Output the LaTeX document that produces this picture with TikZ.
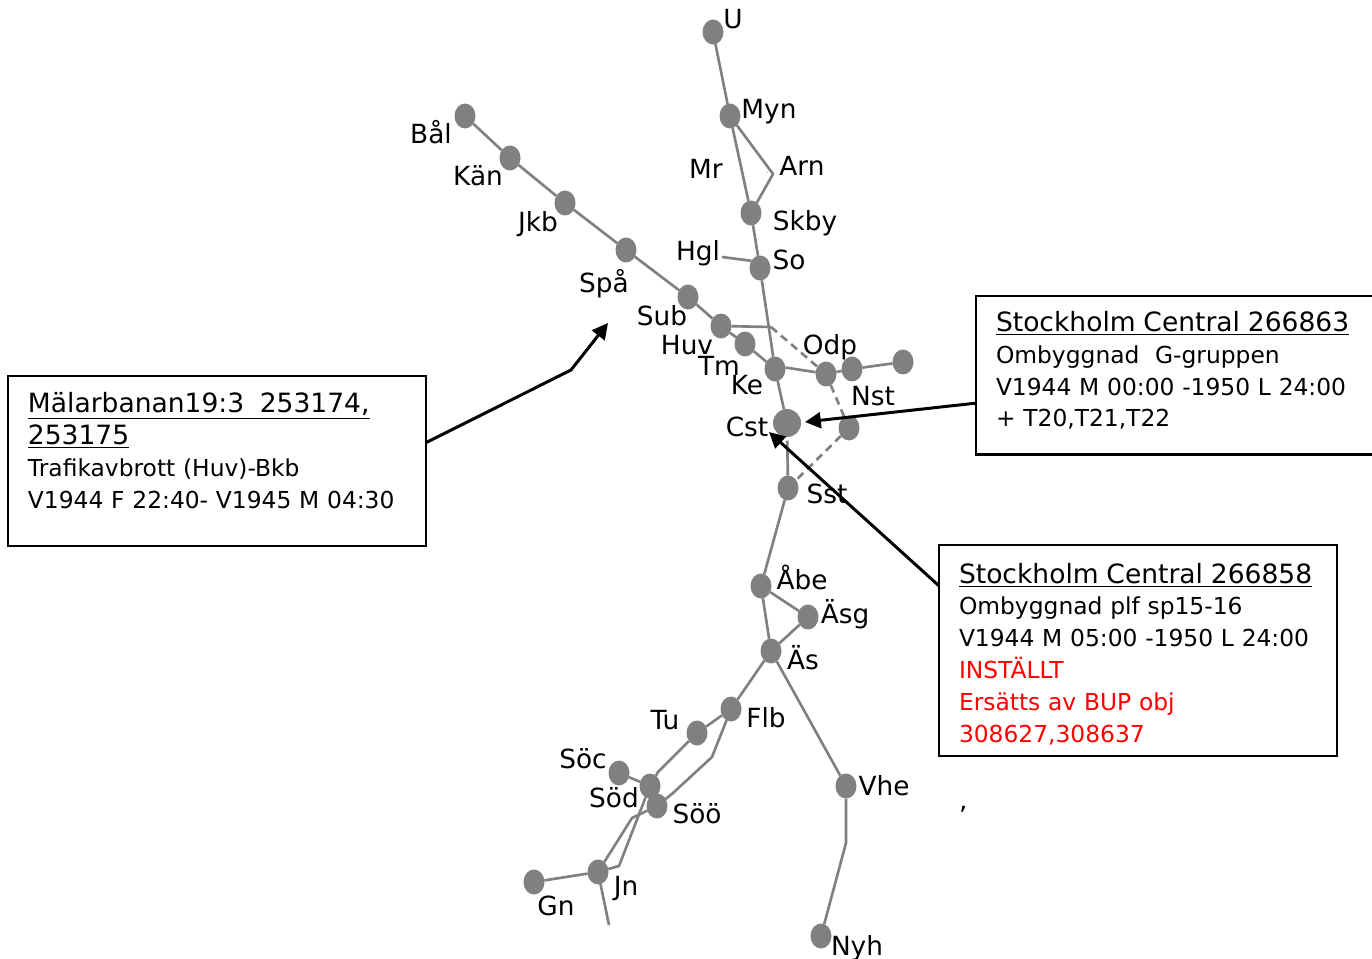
\documentclass[tikz,border=0pt]{standalone}
\usepackage{fontspec}
\setmainfont{DejaVu Sans}
\usetikzlibrary{shapes.geometric,arrows.meta}
\definecolor{stationgray}{RGB}{128,128,128}
\newcommand{\boxtitle}[1]{{\fontsize{15.1}{18.15}\selectfont\underline{#1}}}
\tikzset{
    station/.style={ellipse, fill=stationgray, inner sep=0pt, outer sep=0pt, minimum width=0.42cm, minimum height=0.5cm},
    bigstation/.style={circle, fill=stationgray, inner sep=0pt, outer sep=0pt, minimum size=0.56cm},
    label/.style={inner sep=0pt, font=\fontsize{15}{18}\selectfont, anchor=center},
    track/.style={draw=stationgray, line width=1.5pt},
    closed/.style={track, dash pattern=on 4.5pt off 3pt},
    infobox/.style={draw=black, line width=1.6pt, anchor=north west, align=left, inner ysep=0pt, inner xsep=0.4cm,
        outer sep=0pt, font=\fontsize{13.3}{18.15}\selectfont},
    callout/.style={draw=black, line width=1.7pt, -{Triangle[length=9pt,width=9pt]}}
}
\begin{document}
\begin{tikzpicture}[x=0.02cm,y=-0.02cm]
    \useasboundingbox (0,0) rectangle (1372,959);

    % Stationer, norra grenen
    \node[station] (U) at (713,32) {};
    \node[station] (Myn) at (730,116) {};
    \node[station] (Skby) at (751,213) {};
    \node[station] (So) at (760,268) {};
    \coordinate (Arn) at (773,174);
    \coordinate (Hgl) at (722,257);

    % Stationer, västra grenen
    \node[station] (Bal) at (465,116) {};
    \node[station] (Kan) at (510,158) {};
    \node[station] (Jkb) at (565,203) {};
    \node[station] (Spa) at (626,250) {};
    \node[station] (Sub) at (688,297) {};
    \node[station] (Huv) at (721,326) {};
    \node[station] (Tm) at (745,344) {};
    \node[station] (Ke) at (775,369) {};

    % Stationer runt Cst
    \node[station] (Odp) at (826,374) {};
    \node[station] (Nst) at (852,369) {};
    \node[station] (Ost) at (903,362) {};
    \node[bigstation] (Cst) at (787,423) {};
    \node[station] (Ost2) at (849,428) {};
    \node[station] (Sst) at (788,488) {};
    \coordinate (Huvend) at (771,327);

    % Stationer, södra grenen
    \node[station] (Abe) at (761,586) {};
    \node[station] (Asg) at (808,617) {};
    \node[station] (As) at (771,651) {};
    \node[station] (Flb) at (731,709) {};
    \node[station] (Tu) at (697,733) {};
    \node[station] (Soc) at (619,773) {};
    \node[station] (Sod) at (650,786) {};
    \node[station] (Soo) at (657,806) {};
    \node[station] (Vhe) at (846,786) {};
    \node[station] (Nyh) at (821,936) {};
    \node[station] (Jn) at (598,872) {};
    \node[station] (Gn) at (534,882) {};
    \coordinate (Jnend) at (609,925);

    % Spår
    \draw[track] (U) -- (Myn) -- (Skby) -- (So) -- (Ke) -- (Cst);
    \draw[track] (Myn) -- (Arn) -- (Skby);
    \fill[stationgray] (767,172) circle (0.7);
    \draw[track] (Hgl) -- (So.140);
    \draw[track] (Bal) -- (Kan) -- (Jkb) -- (Spa) -- (Sub) -- (Huv) -- (Tm) -- (Ke);
    \draw[track] (Huv) -- (Huvend);
    \draw[track] (Ke.8) -- (Odp.170);
    \draw[track] (Odp) -- (Nst) -- (Ost);
    \draw[closed] (Huvend) -- (Odp) -- (Ost2) -- (Sst);
    \draw[track, shorten <=2pt] (Cst) -- (Sst);
    \draw[track] (Sst) -- (Abe) -- (As) -- (Flb) -- (Tu);
    \draw[track] (Abe) -- (Asg) -- (As);
    \draw[track] (As) -- (Vhe) -- (846,843) -- (Nyh);
    \draw[track] (Tu) -- (658,772) -- (Sod);
    \draw[track] (Flb) -- (712,757) -- (673,793) -- (Soo) -- (632,818) -- (Jn);
    \draw[track] (Soc) -- (Sod) -- (619,866) -- (Jn);
    \draw[track] (Gn) -- (Jn) -- (Jnend);

    % Namn
    \node[label] (lU) at (733,19) {U};
    \node[label] (lMyn) at (769,112) {Myn};
    \node[label] (lArn) at (802,166) {Arn};
    \node[label] (lMr) at (706,169) {Mr};
    \node[label] (lSkby) at (805,223) {Skby};
    \node[label] (lSo) at (789,260) {So};
    \node[label] (lHgl) at (698,253) {Hgl};
    \node[label] (lBal) at (431,132) {Bål};
    \node[label] (lKan) at (478,176) {Kän};
    \node[label] (lJkb) at (538,224) {Jkb};
    \node[label] (lSpa) at (604,284) {Spå};
    \node[label] (lSub) at (662,316) {Sub};
    \node[label] (lHuv) at (687,345) {Huv};
    \node[label] (lTm) at (719,366) {Tm};
    \node[label] (lOdp) at (830,347) {Odp};
    \node[label] (lKe) at (747,385) {Ke};
    \node[label] (lNst) at (873,396) {Nst};
    \node[label] (lCst) at (747,427) {Cst};
    \node[label] (lSst) at (827,494) {Sst};
    \node[label] (lAbe) at (802,577) {Åbe};
    \node[label] (lAsg) at (845,614) {Äsg};
    \node[label] (lAs) at (803,658) {Äs};
    \node[label] (lFlb) at (766,718) {Flb};
    \node[label] (lTu) at (665,720) {Tu};
    \node[label] (lSoc) at (583,759) {Söc};
    \node[label] (lSod) at (614,798) {Söd};
    \node[label] (lSoo) at (697,814) {Söö};
    \node[label] (lVhe) at (884,786) {Vhe};
    \node[label] (lJn) at (626,889) {Jn};
    \node[label] (lGn) at (556,906) {Gn};
    \node[label] (lNyh) at (857,948) {Nyh};
    \node[label] (lTick) at (963,816) {'};

    % Rutor
    \node[infobox, minimum width=8.36cm, minimum height=3.4cm, text width=7.56cm] (boxMalar) at (8,376)
        {\boxtitle{Mälarbanan19:3\ \ 253174,}\\ \boxtitle{253175}\\ Trafikavbrott (Huv)-Bkb\\ V1944 F 22:40- V1945 M 04:30\rule[-12.4pt]{0pt}{12.4pt}};
    \node[infobox, minimum width=7.94cm, minimum height=3.17cm, text width=7.14cm] (boxGgrupp) at (976,296)
        {\boxtitle{Stockholm Central 266863}\\ Ombyggnad\ \ G-gruppen\\ V1944 M 00:00 -1950 L 24:00\\ + T20,T21,T22\rule[-7pt]{0pt}{7pt}};
    \node[infobox, minimum width=7.96cm, minimum height=4.22cm, text width=7.16cm] (boxPlf) at (939,545)
        {\rule{0pt}{15.5pt}\boxtitle{Stockholm Central 266858}\\ Ombyggnad plf sp15-16\\ V1944 M 05:00 -1950 L 24:00\\ \textcolor{red}{INSTÄLLT}\\ \textcolor{red}{Ersätts av BUP obj}\\ \textcolor{red}{308627,308637}};

    % Pilar
    \coordinate (Malarend) at (608,323);
    \coordinate (Cstost) at (805,422);
    \coordinate (Cstsyd) at (769,432);
    \draw[callout] (boxMalar.5.2) -- (571,370) -- (Malarend);
    \draw[callout] (boxGgrupp.188.7) -- (Cstost);
    \draw[callout] (boxPlf.162.4) -- (Cstsyd);
\end{tikzpicture}
\end{document}
